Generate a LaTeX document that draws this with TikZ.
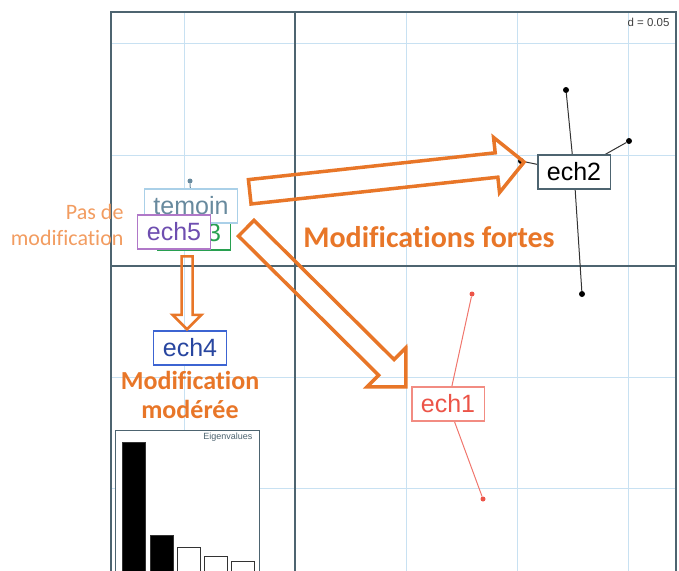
\documentclass[tikz,border=0pt]{standalone}
\usepackage{fontspec}
\setmainfont{Liberation Sans}
\newfontfamily\carlito[Ligatures=NoCommon]{Carlito}
\usepackage{tikz}
\usetikzlibrary{shapes.arrows}
\definecolor{cadre}{RGB}{77,100,112}
\definecolor{grille}{RGB}{200,225,242}
\definecolor{orangeclr}{RGB}{232,118,40}
\definecolor{orangeclair}{RGB}{242,156,96}
\definecolor{ech1clr}{RGB}{236,84,72}
\definecolor{ech1bord}{RGB}{242,140,130}
\definecolor{temclr}{RGB}{104,138,158}
\definecolor{tembord}{RGB}{170,208,232}
\definecolor{ech3clr}{RGB}{40,160,80}
\definecolor{ech4clr}{RGB}{40,70,160}
\definecolor{ech4bord}{RGB}{60,100,210}
\definecolor{ech5clr}{RGB}{110,78,176}
\definecolor{ech5bord}{RGB}{176,120,200}
\tikzset{
  lbl/.style={rectangle,draw,fill=white,line width=1.2pt,inner xsep=9pt,
              minimum height=34pt,font=\fontsize{25}{28}\selectfont},
  pt/.style={circle,fill,inner sep=0pt,minimum size=6pt},
  fleche/.style={single arrow,draw=orangeclr,line width=3.5pt,inner sep=0pt,
                 text depth=0pt,single arrow tip angle=90},
  orangetxt/.style={text=orangeclr,font=\carlito\bfseries\fontsize{#1}{29}\selectfont},
}

\begin{document}
\begin{tikzpicture}[x=1pt, y=-1pt]
\useasboundingbox (0,0) rectangle (679,570);
\clip (0,0) rectangle (679,570);

% Grid and axes
\foreach \gx in {184,406,517,628} {
  \draw[grille,line width=1pt] (\gx,12) -- (\gx,600);
}
\foreach \gy in {43,155,377,488} {
  \draw[grille,line width=1pt] (111,\gy) -- (676,\gy);
}
\draw[cadre,line width=1.5pt] (295,12) -- (295,600);
\draw[cadre,line width=1.5pt] (111,266) -- (676,266);
\draw[cadre,line width=2pt] (111,600) -- (111,12) -- (676,12) -- (676,600);
\node[anchor=north east,font=\fontsize{11.5}{13}\selectfont,text=black!75] (dscale) at (673,15) {d = 0.05};

% Eigenvalues inset
\draw[cadre,fill=white,line width=1pt] (115,430) rectangle (259,600);
\node[anchor=east,font=\fontsize{9}{11}\selectfont,text=cadre] (eigen) at (256,437) {Eigenvalues};
\foreach \xa/\ya/\fc in {122/442/black,150/535/black,177/547/white,204/556/white,231/561/white} {
  \draw[black!80,fill=\fc,line width=1pt] (\xa,\ya) rectangle ({\xa+23},600);
}

% ech2 star
\coordinate (c2) at (574,172);
\node[pt] (p21) at (566,90) {};
\node[pt] (p22) at (629,141) {};
\node[pt] (p23) at (521,161) {};
\node[pt] (p24) at (582,294) {};
\foreach \p in {p21,p22,p23,p24} \draw[black!80,line width=1pt] (c2) -- (\p);
\node[lbl,draw=cadre] (ech2) at (c2) {ech2};

% ech1 star
\coordinate (c1) at (448,404);
\node[pt,ech1clr,minimum size=5pt] (p11) at (472,294) {};
\node[pt,ech1clr,minimum size=5pt] (p12) at (483,499) {};
\foreach \p in {p11,p12} \draw[ech1clr!80,line width=1pt] (c1) -- (\p);
\node[lbl,draw=ech1bord,text=ech1clr] (ech1) at (c1) {ech1};

% Control group and overlapping labels
\coordinate (c0) at (191,206);
\node[pt,temclr,minimum size=5pt] (p01) at (190,181) {};
\draw[temclr,line width=1pt] (c0) -- (p01);
\node[lbl,draw=ech3clr,text=ech3clr] (ech3) at (194,233) {ech3};
\node[lbl,draw=tembord,text=temclr] (temoin) at (c0) {temoin};
\node[lbl,draw=ech5bord,text=ech5clr] (ech5) at (174,232) {ech5};
\node[lbl,draw=ech4bord,text=ech4clr] (ech4) at (190,348) {ech4};

% Orange block arrows
\node[fleche,anchor=tail,rotate=6.2,minimum height=276pt,text height=21pt,
      single arrow head extend=15.5pt] (flA) at (248,192) {};
\node[fleche,anchor=tail,rotate=-44.8,minimum height=225pt,text height=18.5pt,
      single arrow head extend=16.5pt] (flB) at (245,227) {};
\node[fleche,anchor=tail,rotate=-90,line width=2.5pt,minimum height=73pt,text height=8.5pt,
      single arrow head extend=9pt] (flC) at (187,255) {};

% Orange comments
\node[anchor=east,align=right,text=orangeclair,
      font=\carlito\fontsize{22}{26}\selectfont] (pasmod) at (127,225) {Pas de\\modification};
\node[orangetxt=30] (fortes) at (429,237) {Modifications fortes};
\node[orangetxt=26,align=center] (moderee) at (190,395) {Modification\\modérée};
\end{tikzpicture}
\end{document}
